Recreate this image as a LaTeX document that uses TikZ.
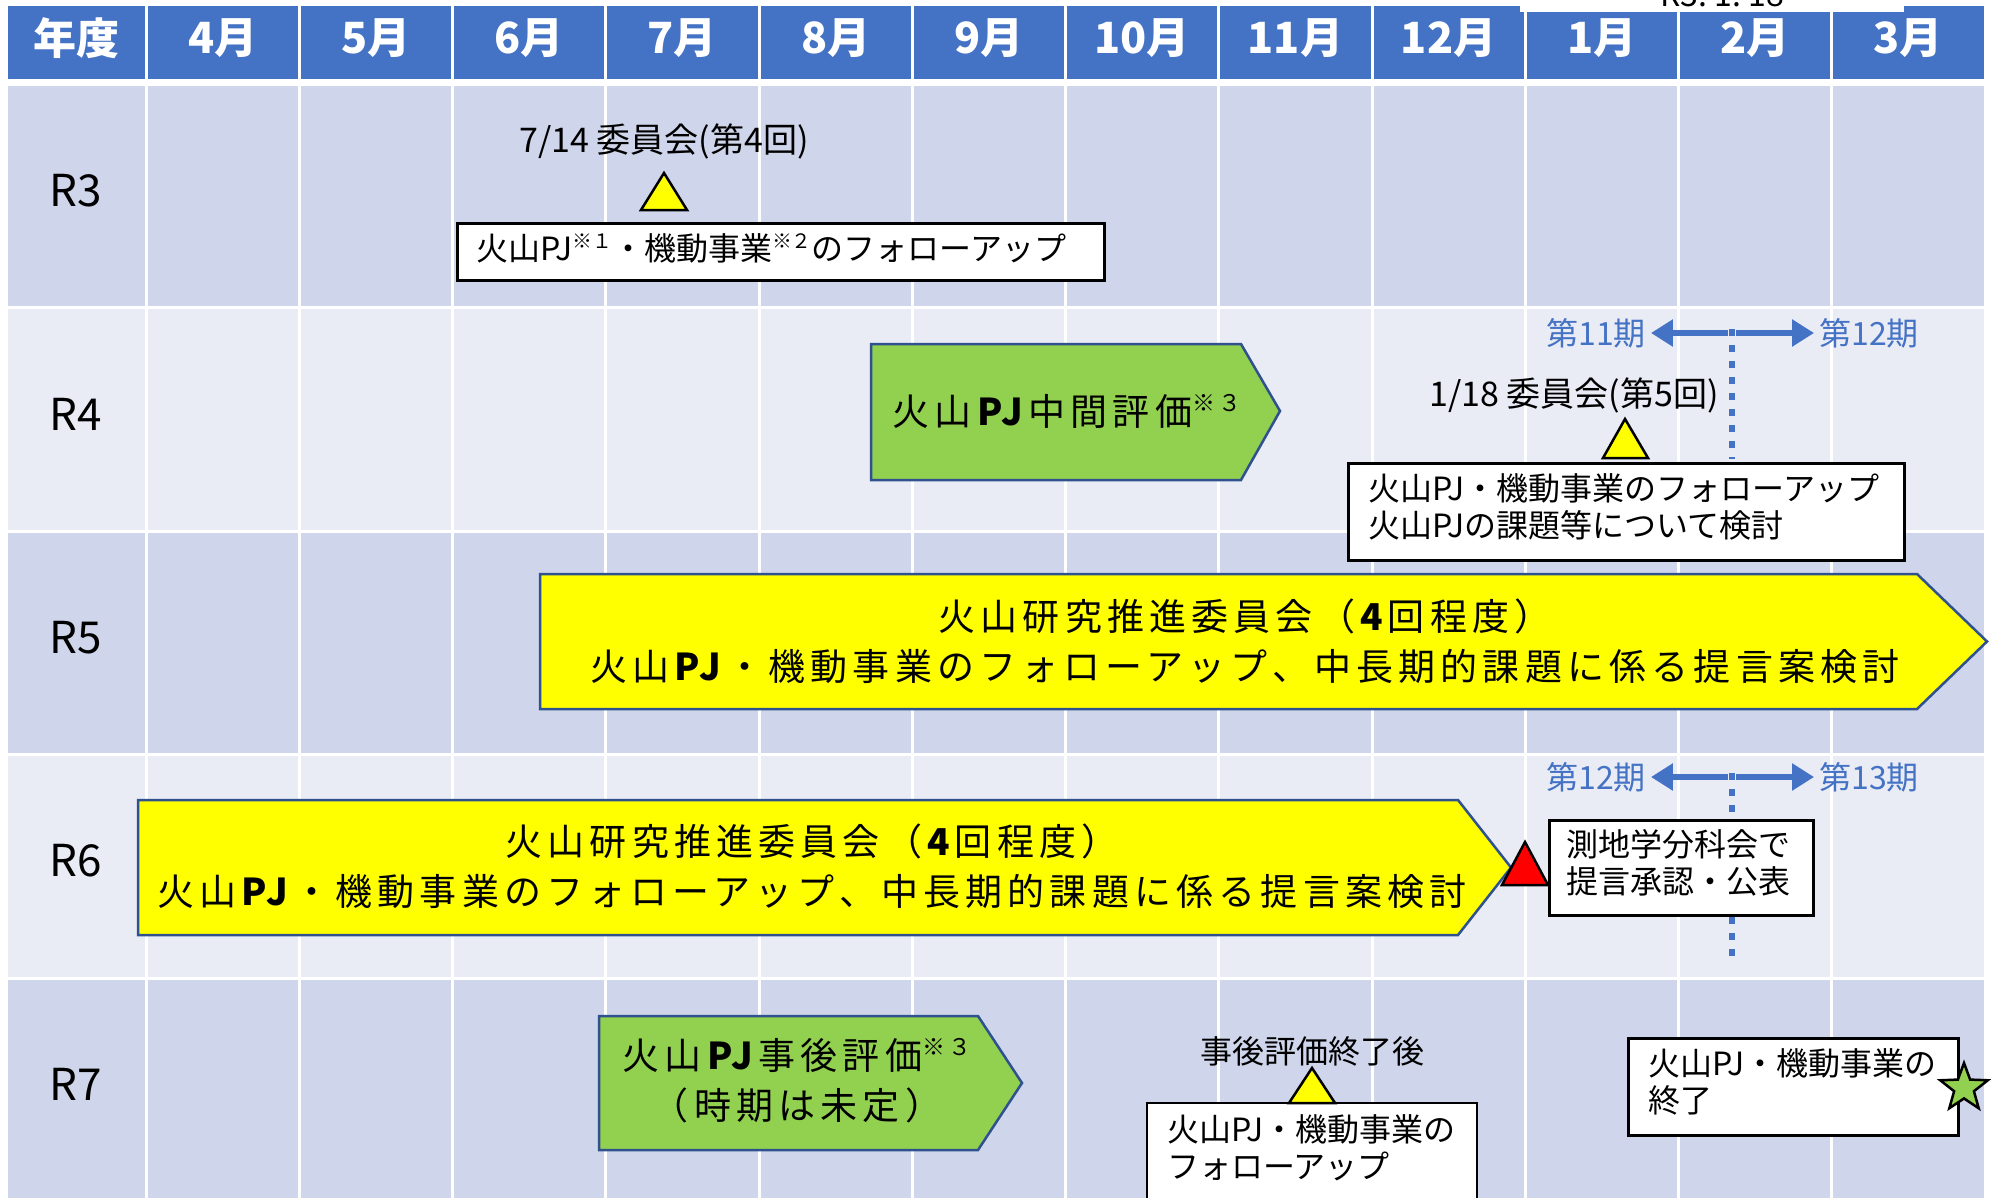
\documentclass[tikz,border=0pt]{standalone}
\usepackage{fontspec}
\usepackage{graphicx}
\setmainfont{Noto Sans CJK JP}
\newfontfamily\jpwide{Noto Sans CJK JP}[LetterSpace=14]
\usetikzlibrary{arrows.meta,shapes.geometric}
\definecolor{hdr}{HTML}{4472C4}
\definecolor{rowA}{HTML}{CFD5EA}
\definecolor{rowB}{HTML}{E9EBF5}
\definecolor{grn}{HTML}{92D050}
\definecolor{ylw}{HTML}{FFFF00}
\definecolor{edge}{HTML}{2F528F}
\definecolor{redt}{HTML}{FF0000}
\newcommand\supn[1]{\raisebox{0.38em}{\scalebox{0.62}{※#1}}}
\begin{document}
\begin{tikzpicture}[x=1pt,y=-1pt]
\tikzset{
 hdrtxt/.style={text=white, font=\fontsize{43}{43}\selectfont\bfseries, inner sep=0pt},
 rowtxt/.style={font=\fontsize{44}{44}\selectfont, inner sep=0pt},
 lbl/.style={font=\fontsize{32}{37}\selectfont, inner sep=0pt},
 datelbl/.style={font=\fontsize{34}{37}\selectfont, inner sep=0pt},
 bl/.style={text=hdr, font=\fontsize{32}{32}\selectfont, inner sep=0pt},
 boxframe/.style={draw=black, line width=2.5pt, fill=white, inner sep=0pt, anchor=north west},
 boxtxt/.style={align=left, font=\fontsize{32}{37}\selectfont, inner sep=0pt, anchor=west},
 boxline/.style={draw=black, line width=2.5pt},
 tri/.style={draw=black, line width=2.5pt, fill=ylw, line join=miter},
 pent/.style={draw=edge, line width=2.5pt, line join=miter},
 shp/.style={font=\jpwide\fontsize{37}{50}\selectfont, align=center, inner sep=0pt},
 per/.style={draw=hdr, line width=6pt, -{Triangle[length=22pt,width=26pt]}, shorten >=5pt},
 dotl/.style={draw=hdr, line width=6pt, dash pattern=on 7pt off 9pt},
}
\useasboundingbox (0,0) rectangle (1991,1197);
\fill[white] (0,0) rectangle (1991,1197);

% header row
\fill[hdr] (8,6) rectangle (144.5,79);
\node[hdrtxt] (yr) at (76,38) {年度};
\foreach \i/\lab in {0/4月,1/5月,2/6月,3/7月,4/8月,5/9月,6/10月,7/11月,8/12月,9/1月,10/2月,11/3月}{
  \pgfmathsetmacro\xa{146+\i*153.25}
  \fill[hdr] (\xa+1.5,6) rectangle (\xa+151.75,79);
  \node[hdrtxt] (m\i) at (\xa+76.6,38) {\lab};
}

% body rows
\foreach \r/\lab/\col in {0/R3/rowA,1/R4/rowB,2/R5/rowA,3/R6/rowB,4/R7/rowA}{
  \pgfmathsetmacro\ya{84.5+\r*223.4}
  \fill[\col] (8,\ya+1.5) rectangle (144.5,\ya+221.9);
  \foreach \i in {0,...,11}{
    \pgfmathsetmacro\xa{146+\i*153.25}
    \fill[\col] (\xa+1.5,\ya+1.5) rectangle (\xa+151.75,\ya+221.9);
  }
  \node[rowtxt] (row\r) at (76,\ya+106) {\lab};
}

% clipped date note at the top
\fill[white] (1520,0) rectangle (1904,12);
\begin{scope}
  \clip (1520,0) rectangle (1904,12);
  \node[anchor=base, font=\fontsize{32}{32}\selectfont, inner sep=0pt] (date) at (1722,6) {R3.\ 1.\ 18};
\end{scope}

% ---------- R3
\node[datelbl] (t714) at (664,141) {7/14 委員会(第4回)};
\node[boxframe, minimum width=647pt, minimum height=57pt] (b3) at (456,222) {};
\node[boxtxt] (b3t) at ([xshift=20pt,yshift=3pt]b3.west) {火山PJ\supn{１}・機動事業\supn{２}のフォローアップ};
\draw[tri] (641,210) -- (664,173) -- (687,210) -- cycle;

% ---------- R4
\draw[pent, fill=grn] (871,344) -- (1241,344) -- (1280,411) -- (1241,480) -- (871,480) -- cycle;
\node[shp] (t4) at (1067,411) {火山\textbf{PJ}中間評価\supn{３}};

\node[bl] (l11) at (1596,333) {第11期};
\node[bl] (l12a) at (1869,333) {第12期};
\coordinate (p4) at (1732,329);
\coordinate (p4l) at (1728,333);
\coordinate (p4r) at (1736,333);
\node[datelbl] (t118) at (1574,395) {1/18 委員会(第5回)};
\node[boxframe, minimum width=556pt, minimum height=97pt] (b4) at (1347,462) {};
\node[boxtxt] (b4t) at ([xshift=21pt,yshift=5pt]b4.west) {火山PJ・機動事業のフォローアップ\\火山PJの課題等について検討};
\draw[dotl, shorten >=3pt] (p4) -- (p4 |- b4.north);
\draw[per] (p4l) -- (l11);
\draw[per] (p4r) -- (l12a);
\draw[tri] (1603,458) -- (1625,419) -- (1648,458) -- cycle;

% ---------- R5
\draw[pent, fill=ylw] (540,574) -- (1917,574) -- (1987,641.5) -- (1917,709) -- (540,709) -- cycle;
\node[shp] (t5) at (1245,641) {火山研究推進委員会（\textbf{4}回程度）\\火山\textbf{PJ}・機動事業のフォローアップ、中長期的課題に係る提言案検討};

% ---------- R6
\draw[pent, fill=ylw] (138,800) -- (1458,800) -- (1511,867.5) -- (1458,935) -- (138,935) -- cycle;
\node[shp] (t6) at (812,866) {火山研究推進委員会（\textbf{4}回程度）\\火山\textbf{PJ}・機動事業のフォローアップ、中長期的課題に係る提言案検討};

\node[bl] (l12b) at (1596,777) {第12期};
\node[bl] (l13) at (1869,777) {第13期};
\coordinate (p6) at (1732,773);
\coordinate (p6l) at (1728,777);
\coordinate (p6r) at (1736,777);
\coordinate (p6end) at (1732,961);
\draw[dotl] (p6) -- (p6end);
\draw[per] (p6l) -- (l12b);
\draw[per] (p6r) -- (l13);
\node[boxframe, minimum width=264pt, minimum height=95pt] (b6) at (1548,819) {};
\node[boxtxt] (b6t) at ([xshift=18pt,yshift=5pt]b6.west) {測地学分科会で\\提言承認・公表};
\draw[tri, fill=redt] (1502,885) -- (1525,842) -- (1548,885) -- cycle;

% ---------- R7
\draw[pent, fill=grn] (599,1016) -- (978,1016) -- (1022,1083) -- (978,1150) -- (599,1150) -- cycle;
\node[shp] (t7) at (797,1081) {火山\textbf{PJ}事後評価\supn{３}\\（時期は未定）};

\node[lbl] (tafter) at (1312,1051) {事後評価終了後};
\fill[white] (1147,1103) rectangle (1477,1215);
\coordinate (b7anw) at (1147,1103);
\coordinate (b7ane) at (1477,1103);
\node[boxtxt] (b7at) at (1167,1148) {火山PJ・機動事業の\\フォローアップ};
\draw[boxline] (b7anw |- 0,1215) -- (b7anw) -- (b7ane) -- (b7ane |- 0,1215);
\draw[tri] (1289,1103) -- (1312,1068) -- (1335,1103) -- cycle;

\node[boxframe, minimum width=330pt, minimum height=97pt] (b7b) at (1627,1037) {};
\node[boxtxt] (b7bt) at ([xshift=21pt,yshift=5pt]b7b.west) {火山PJ・機動事業の\\終了};
\node[star, star points=5, star point ratio=2.4, minimum size=50pt, inner sep=0pt, draw=black, line width=2.5pt, fill=grn] (star) at (1964,1088) {};
\end{tikzpicture}
\end{document}
